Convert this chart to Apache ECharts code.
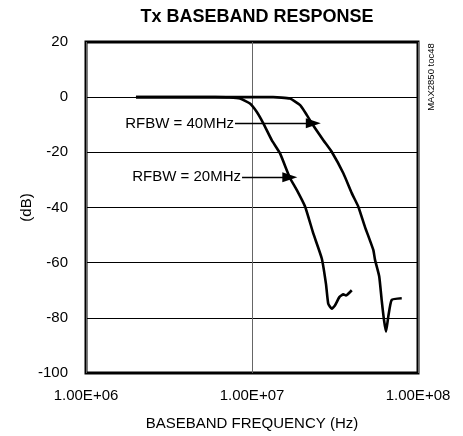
<!DOCTYPE html>
<html>
<head>
<meta charset="utf-8">
<script src="https://cdn.jsdelivr.net/npm/echarts@6/dist/echarts.min.js"></script>
<style>html,body{margin:0;padding:0;background:#fff}#c{width:463px;height:436px}</style>
</head>
<body>
<div id="c"></div>
<script>
const titleText = 'Tx BASEBAND RESPONSE';
const xName = 'BASEBAND FREQUENCY (Hz)';
const yName = '(dB)';
const noteText = 'MAX2850 toc48';
const xTickLabels = ['1.00E+06', '1.00E+07', '1.00E+08'];
const yTicks = [-100, -80, -60, -40, -20, 0, 20];

const freq20 = [2e6, 4e6, 6e6, 7.3e6, 8.47e6, 9.72e6, 10.67e6, 11.7e6, 13.15e6, 14.75e6, 16.9e6, 18.6e6, 20.9e6, 23.4e6, 26.3e6, 27.9e6, 28.8e6, 30.2e6, 31.6e6, 33.6e6, 35.5e6, 36.8e6, 39.9e6];
const db20   = [0,   0,   0,   -0.1,   -0.5,    -2.3,    -5.3,     -9.5,    -15.6,   -20.4,   -29.2,   -33.6,   -39.7,   -49.4,   -58.4,   -67.7,   -74.9,   -76.7,   -75.5,   -72.5,   -71.5,   -71.9,   -70];

const freq40 = [2e6, 6e6, 10e6, 13.4e6, 16.9e6, 19.5e6, 21.4e6, 23.4e6, 26.9e6, 30.2e6, 35.5e6, 39.9e6, 43.7e6, 47.9e6, 53.8e6, 55.1e6, 58.4e6, 60.4e6, 62.4e6, 64.2e6, 66.2e6, 69.4e6, 79.8e6];
const db40   = [0,   0,   0,    0,      -0.5,   -2.9,   -6.5,   -10.3,  -15.6,  -19.8,  -27.6,  -34.8,  -39.7,  -47,    -55.4,  -59,    -65,    -73.5,  -80.8,  -85,    -79.6,  -73.5,  -72.9];

const ann40 = {text: 'RFBW = 40MHz', from: [7.9e6, -9.5], to: [23.4e6, -9.5]};
const ann20 = {text: 'RFBW = 20MHz', from: [8.71e6, -29], to: [16.9e6, -29]};

const FONT = 'Liberation Sans, Arial, sans-serif';
const zip = (xs, ys) => xs.map((x, i) => [x, ys[i]]);

function annLine(a) {
  return [
    {coord: a.from, symbol: 'none', label: {show: true, formatter: a.text, position: 'start', distance: 1, color: '#000', fontSize: 15, fontFamily: FONT}},
    {coord: a.to, symbol: 'triangle', symbolSize: [10, 15]}
  ];
}

const chart = echarts.init(document.getElementById('c'), null, {renderer: 'canvas'});
chart.setOption({
  animation: false,
  backgroundColor: '#fff',
  title: {
    text: titleText, left: 252, top: 3, textAlign: 'center',
    textStyle: {fontFamily: FONT, fontWeight: 'bold', fontSize: 18, color: '#000'}
  },
  grid: {left: 86, right: 45, top: 42, bottom: 63, show: true, borderColor: '#000', borderWidth: 3, backgroundColor: 'transparent'},
  xAxis: {
    type: 'log', logBase: 10, min: 1e6, max: 1e8,
    name: xName, nameLocation: 'middle', nameGap: 43, nameMoveOverlap: false,
    nameTextStyle: {fontFamily: FONT, fontSize: 15, color: '#000'},
    axisLine: {show: false}, axisTick: {show: false}, minorTick: {show: false},
    splitLine: {show: true, lineStyle: {color: '#666', width: 1}},
    axisLabel: {
      margin: 15, fontFamily: FONT, fontSize: 15, color: '#000',
      formatter: v => xTickLabels[Math.round(Math.log10(v)) - 6]
    }
  },
  yAxis: {
    type: 'value', min: yTicks[0], max: yTicks[yTicks.length - 1], interval: 20,
    name: yName, nameLocation: 'middle', nameGap: 52, nameMoveOverlap: false,
    nameTextStyle: {fontFamily: FONT, fontSize: 15, color: '#000'},
    axisLine: {show: false}, axisTick: {show: false},
    splitLine: {show: true, lineStyle: {color: '#000', width: 1}},
    axisLabel: {margin: 18, fontFamily: FONT, fontSize: 15, color: '#000'}
  },
  graphic: [{
    type: 'text', x: 431, y: 77, rotation: Math.PI / 2,
    style: {text: noteText, fontFamily: FONT, fontSize: 9.5, fill: '#000', align: 'center', verticalAlign: 'middle'}
  }],
  series: [
    {
      type: 'line', data: zip(freq20, db20), smooth: 0.15, showSymbol: false,
      lineStyle: {color: '#000', width: 2.6}, z: 3,
      markLine: {
        silent: true, animation: false, symbol: ['none', 'triangle'],
        lineStyle: {color: '#000', width: 1.3, type: 'solid'},
        data: [annLine(ann20)]
      }
    },
    {
      type: 'line', data: zip(freq40, db40), smooth: 0.15, showSymbol: false,
      lineStyle: {color: '#000', width: 2.6}, z: 3,
      markLine: {
        silent: true, animation: false, symbol: ['none', 'triangle'],
        lineStyle: {color: '#000', width: 1.3, type: 'solid'},
        data: [annLine(ann40)]
      }
    }
  ]
});
</script>
</body>
</html>
